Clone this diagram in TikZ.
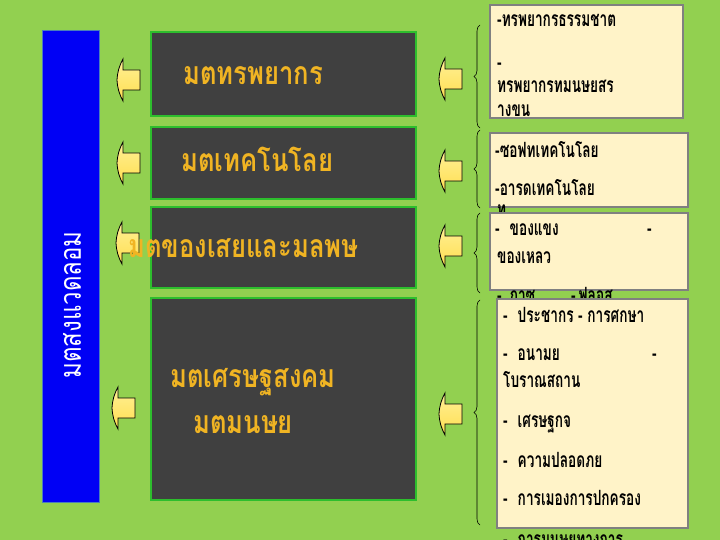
\documentclass[tikz,border=0pt]{standalone}
\usepackage{fontspec}
\newfontfamily\thaimain[Script=Thai,FakeStretch=0.8]{Loma}
\newfontfamily\thaismall[Script=Thai,FakeStretch=0.65]{Loma}
\usetikzlibrary{decorations.pathreplacing}
\definecolor{bggreen}{RGB}{146,208,80}
\definecolor{darkfill}{RGB}{64,64,64}
\definecolor{darkedge}{RGB}{45,190,45}
\definecolor{goldtext}{RGB}{240,180,35}
\definecolor{paleyellow}{RGB}{255,243,200}
\definecolor{paleedge}{RGB}{128,128,128}
\definecolor{barblue}{RGB}{0,0,245}
\definecolor{baredge}{RGB}{74,126,187}
\definecolor{arrowtop}{RGB}{255,240,150}
\definecolor{arrowbot}{RGB}{255,222,80}
\tikzset{
  darkbox/.style={draw=darkedge,line width=1.8pt,fill=darkfill,inner sep=0pt},
  palebox/.style={draw=paleedge,line width=1.2pt,fill=paleyellow,inner sep=0pt},
  bigtext/.style={anchor=base west,inner sep=0pt,text=goldtext,font=\thaimain\bfseries\fontsize{32}{32}\selectfont},
  smalltext/.style={anchor=base west,inner sep=0pt,text=black,font=\thaismall\bfseries\fontsize{21}{21}\selectfont},
  bracestyle/.style={draw=black,line width=0.6pt,decorate,decoration={brace,amplitude=6pt}},
  arrowstyle/.style={draw=black,line width=0.8pt,top color=arrowtop,bottom color=arrowbot},
  larrow/.pic={\path[arrowstyle] (0,0) to[bend left=12] (6,-21) -- (6,-10) -- (23,-10) -- (23,10) -- (6,10) -- (6,21) to[bend left=12] cycle;}
}
\begin{document}
\begin{tikzpicture}[x=1pt,y=-1pt]
\useasboundingbox (0,0) rectangle (720,540);
\fill[bggreen] (0,0) rectangle (720,540);
\clip (0,0) rectangle (720,540);
% blue bar
\node[draw=baredge,line width=1pt,fill=barblue,minimum width=57pt,minimum height=471pt,inner sep=0pt] (bar) at (70.5,266.5) {};
\node[rotate=90,inner sep=0pt,text=white,font=\thaimain\fontsize{30}{30}\selectfont] (bartext) at (72,305) {มตสงแวดลอม};
% dark boxes
\node[darkbox,minimum width=265pt,minimum height=84pt] (d1) at (283.5,74) {};
\node[darkbox,minimum width=265pt,minimum height=72pt] (d2) at (283.5,163) {};
\node[darkbox,minimum width=265pt,minimum height=81pt] (d3) at (283.5,247.5) {};
\node[darkbox,minimum width=265pt,minimum height=202pt] (d4) at (283.5,399) {};
% left arrows
\pic (la1) at (117,80) {larrow};
\pic (la2) at (117,163) {larrow};
\pic (la3) at (116,243) {larrow};
\pic (la4) at (112,408) {larrow};
% labels
\node[bigtext] (t1) at (183,85) {มตทรพยากร};
\node[bigtext] (t2) at (181,172) {มตเทคโนโลย};
\node[bigtext] (t3) at (128,258) {มตของเสยและมลพษ};
\node[bigtext] (t4) at (170,387) {มตเศรษฐสงคม};
\node[bigtext] (t5) at (193,433) {มตมนษย};
% right arrows
\pic (ra1) at (439,79) {larrow};
\pic (ra2) at (439,171) {larrow};
\pic (ra3) at (439,246) {larrow};
\pic (ra4) at (439,414) {larrow};
% braces
\coordinate (b1s) at (480,128); \coordinate (b1e) at (480,25);
\coordinate (b2s) at (480,208); \coordinate (b2e) at (480,130);
\coordinate (b3s) at (480,293); \coordinate (b3e) at (480,213);
\coordinate (b4s) at (480,525); \coordinate (b4e) at (480,300);
\draw[bracestyle] (b1s) -- (b1e);
\draw[bracestyle] (b2s) -- (b2e);
\draw[bracestyle] (b3s) -- (b3e);
\draw[bracestyle] (b4s) -- (b4e);
% pale box A
\node[palebox,minimum width=193pt,minimum height=113pt] (pa) at (586.5,61.5) {};
\node[smalltext] (pa1) at (497,27) {-ทรพยากรธรรมชาต};
\node[smalltext] (pa2) at (497,70) {-};
\node[smalltext] (pa3) at (497,93) {ทรพยากรทมนษยสร};
\node[smalltext] (pa4) at (497,117) {างขน};
% pale box B
\node[palebox,minimum width=198pt,minimum height=74pt] (pb) at (589,170) {};
\node[smalltext] (pb1) at (495,158) {-ซอฟทเทคโนโลย};
\node[smalltext] (pb2) at (495,196) {-อารดเทคโนโลย};
\node[smalltext] (pb3) at (497,217) {ท};
% pale box C
\node[palebox,minimum width=198pt,minimum height=77pt] (pc) at (589,251.5) {};
\node[smalltext] (pc1) at (495,236) {-\hspace{10pt}ของแขง};
\node[smalltext] (pc2) at (647,236) {-};
\node[smalltext] (pc3) at (497,263) {ของเหลว};
\node[smalltext] (pc4) at (497,302) {-\hspace{8pt}กาซ};
\node[smalltext] (pc5) at (571,302) {-\hspace{3pt}ฟลอส};
% pale box D
\node[palebox,minimum width=191pt,minimum height=229pt] (pd) at (592.5,413.5) {};
\node[smalltext] (pd1) at (503,322) {-\hspace{10pt}ประชากร - การศกษา};
\node[smalltext] (pd2) at (503,360) {-\hspace{10pt}อนามย};
\node[smalltext] (pd3) at (652,360) {-};
\node[smalltext] (pd4) at (503,387) {โบราณสถาน};
\node[smalltext] (pd5) at (503,427) {-\hspace{10pt}เศรษฐกจ};
\node[smalltext] (pd6) at (503,467) {-\hspace{10pt}ความปลอดภย};
\node[smalltext] (pd7) at (503,505) {-\hspace{10pt}การเมองการปกครอง};
\node[smalltext] (pd8) at (503,546) {-\hspace{10pt}การมนษยทางการ};
\end{tikzpicture}
\end{document}
